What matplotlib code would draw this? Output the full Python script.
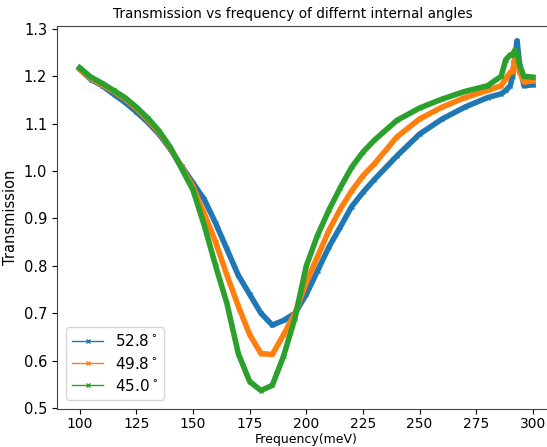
import matplotlib
matplotlib.use("Agg")
import matplotlib.pyplot as plt

# frequency axis (meV)
freq = [100, 105, 110, 115, 120, 125, 130, 135, 140, 145, 150, 155, 160, 165,
        170, 175, 180, 185, 190, 195, 200, 205, 210, 215, 220, 225, 230, 240,
        250, 260, 270, 280, 286, 288, 290, 291, 292, 293, 294, 296, 300]

# transmission for each internal angle
t_528 = [1.215, 1.193, 1.180, 1.162, 1.145, 1.125, 1.103, 1.078, 1.046, 1.010,
         0.975, 0.940, 0.890, 0.835, 0.780, 0.740, 0.700, 0.675, 0.685, 0.700,
         0.740, 0.790, 0.840, 0.882, 0.925, 0.955, 0.982, 1.032, 1.078, 1.110,
         1.135, 1.155, 1.163, 1.170, 1.180, 1.200, 1.240, 1.275, 1.230, 1.180,
         1.182]
t_498 = [1.215, 1.195, 1.182, 1.168, 1.152, 1.132, 1.108, 1.082, 1.048, 1.008,
         0.967, 0.910, 0.850, 0.780, 0.715, 0.655, 0.615, 0.613, 0.655, 0.700,
         0.765, 0.820, 0.875, 0.920, 0.958, 0.990, 1.015, 1.072, 1.110, 1.135,
         1.155, 1.170, 1.180, 1.195, 1.208, 1.210, 1.235, 1.240, 1.210, 1.188,
         1.190]
t_450 = [1.218, 1.198, 1.185, 1.170, 1.155, 1.135, 1.112, 1.085, 1.050, 1.005,
         0.960, 0.885, 0.800, 0.720, 0.615, 0.556, 0.537, 0.548, 0.610, 0.690,
         0.800, 0.865, 0.918, 0.965, 1.008, 1.040, 1.065, 1.107, 1.133, 1.152,
         1.168, 1.180, 1.200, 1.235, 1.245, 1.245, 1.255, 1.250, 1.225, 1.200,
         1.198]

angles = ["52.8$^\\circ$", "49.8$^\\circ$", "45.0$^\\circ$"]
series = [t_528, t_498, t_450]

fig = plt.figure(figsize=(5.47, 4.47), dpi=100)
ax = fig.add_axes([57 / 547, 1 - 409 / 447, (555.6 - 57) / 547, (409 - 26) / 447])

for ys, lab in zip(series, angles):
    ax.plot(freq, ys, marker='x', markersize=3, linewidth=4, label=lab)

ax.set_xlim(90, 310)
ax.set_ylim(0.498, 1.306)
ax.set_xticks([100, 125, 150, 175, 200, 225, 250, 275, 300])
ax.set_yticks([0.5, 0.6, 0.7, 0.8, 0.9, 1.0, 1.1, 1.2, 1.3])
ax.tick_params(labelsize=10.5)
ax.tick_params(axis='x', labelsize=10, pad=2)
for s in ax.spines.values():
    s.set_color('#444444')

ax.set_title("Transmission vs frequency of differnt internal angles",
             fontsize=9.8, x=0.474)
ax.set_xlabel("Frequency(meV)", fontsize=9)
ax.xaxis.set_label_coords(0.5, -(433 - 409) / 383)
ax.set_ylabel("Transmission", fontsize=10.5)

leg = ax.legend(loc='lower left', fontsize=11, borderaxespad=0.6,
                labelspacing=0.4)
for ln in leg.get_lines():
    ln.set_linewidth(1)

fig.savefig("out.png", dpi=100)
